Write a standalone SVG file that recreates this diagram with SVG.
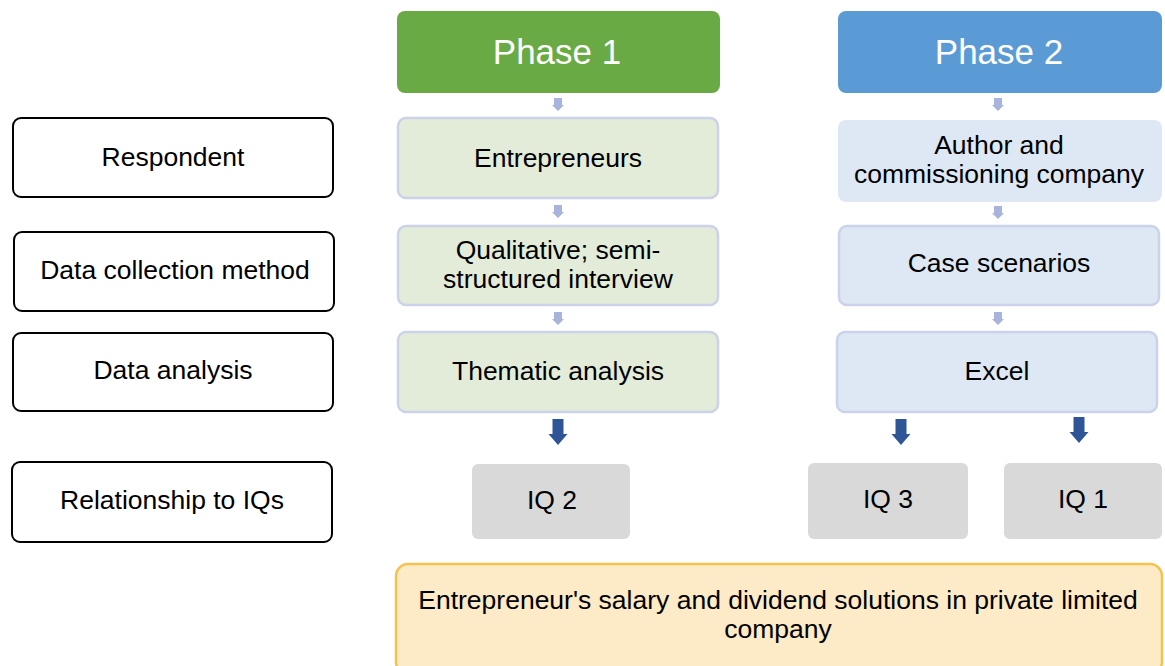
<svg xmlns="http://www.w3.org/2000/svg" width="1165" height="666" viewBox="0 0 1165 666">
  <style>
    text { font-family: "Liberation Sans", Arial, sans-serif; fill: #000; text-anchor: middle; }
    .label { fill: #fff; stroke: #000; stroke-width: 2; }
    .t22 { font-size: 26.5px; }
    .phase { font-size: 35px; fill: #fff; }
    .p1 { fill: #6aaa45; }
    .p2 { fill: #5b9bd5; }
    .g { fill: #e3ecd9; stroke: #cbd2ea; stroke-width: 2.5; }
    .b { fill: #dde8f4; stroke: #cbd2ea; stroke-width: 2.5; }
    .b0 { fill: #dde8f4; }
    .iq { fill: #d9d9d9; }
    .out { fill: #fdeac6; stroke: #f6c24e; stroke-width: 2.5; }
    .small { fill: #a9b4dc; }
    .big { fill: #2e5697; }
  </style>
  <defs>
    <path id="smallArrow" d="M-4,0 H4 V7 H6 L0,13 L-6,7 H-4 Z"/>
    <path id="bigArrow" d="M-5.5,0 H5.5 V15 H9.5 L0,26 L-9.5,15 H-5.5 Z"/>
  </defs>

  <!-- row labels -->
  <g id="respondent">
    <rect class="label" x="13" y="118" width="320" height="79" rx="8"/>
    <text class="t22" x="173" y="166">Respondent</text>
  </g>
  <g id="collection">
    <rect class="label" x="14" y="232" width="320" height="79" rx="8"/>
    <text class="t22" x="175" y="279">Data collection method</text>
  </g>
  <g id="analysis">
    <rect class="label" x="13" y="333" width="320" height="78" rx="8"/>
    <text class="t22" x="173" y="379">Data analysis</text>
  </g>
  <g id="relationship">
    <rect class="label" x="12" y="462" width="320" height="80" rx="8"/>
    <text class="t22" x="172" y="509">Relationship to IQs</text>
  </g>

  <!-- phase 1 column -->
  <g id="phase1">
    <rect class="p1" x="397" y="11" width="323" height="82" rx="8"/>
    <text class="phase" x="557" y="64">Phase 1</text>
  </g>
  <g id="entrepreneurs">
    <rect class="g" x="398" y="118" width="320" height="80" rx="8"/>
    <text class="t22" x="558" y="167">Entrepreneurs</text>
  </g>
  <g id="qualitative">
    <rect class="g" x="398" y="226" width="320" height="79" rx="8"/>
    <text class="t22" x="558" y="259">Qualitative; semi-</text>
    <text class="t22" x="558" y="288">structured interview</text>
  </g>
  <g id="thematic">
    <rect class="g" x="398" y="332" width="320" height="80" rx="8"/>
    <text class="t22" x="558" y="380">Thematic analysis</text>
  </g>
  <g id="iq2">
    <rect class="iq" x="472" y="464" width="158" height="75" rx="6"/>
    <text class="t22" x="552" y="509">IQ 2</text>
  </g>

  <!-- phase 2 column -->
  <g id="phase2">
    <rect class="p2" x="838" y="11" width="324" height="82" rx="8"/>
    <text class="phase" x="999" y="64">Phase 2</text>
  </g>
  <g id="author">
    <rect class="b0" x="838" y="120" width="324" height="82" rx="8"/>
    <text class="t22" x="999" y="154">Author and</text>
    <text class="t22" x="999" y="183">commissioning company</text>
  </g>
  <g id="cases">
    <rect class="b" x="839" y="226" width="320" height="79" rx="8"/>
    <text class="t22" x="999" y="272">Case scenarios</text>
  </g>
  <g id="excel">
    <rect class="b" x="837" y="332" width="320" height="80" rx="8"/>
    <text class="t22" x="997" y="380">Excel</text>
  </g>
  <g id="iq3">
    <rect class="iq" x="808" y="463" width="160" height="76" rx="6"/>
    <text class="t22" x="888" y="508">IQ 3</text>
  </g>
  <g id="iq1">
    <rect class="iq" x="1004" y="463" width="158" height="76" rx="6"/>
    <text class="t22" x="1083" y="508">IQ 1</text>
  </g>

  <!-- shared outcome -->
  <g id="outcome">
    <rect class="out" x="396" y="564" width="766" height="110" rx="12"/>
    <text class="t22" x="778" y="609">Entrepreneur's salary and dividend solutions in private limited</text>
    <text class="t22" x="778" y="638">company</text>
  </g>

  <!-- connectors -->
  <g id="connectors">
    <use href="#smallArrow" class="small" x="558" y="98"/>
    <use href="#smallArrow" class="small" x="558" y="205"/>
    <use href="#smallArrow" class="small" x="558" y="312"/>
    <use href="#smallArrow" class="small" x="998" y="98"/>
    <use href="#smallArrow" class="small" x="998" y="206"/>
    <use href="#smallArrow" class="small" x="998" y="312"/>
    <use href="#bigArrow" class="big" x="558" y="419"/>
    <use href="#bigArrow" class="big" x="901" y="419"/>
    <use href="#bigArrow" class="big" x="1079" y="417"/>
  </g>
</svg>
